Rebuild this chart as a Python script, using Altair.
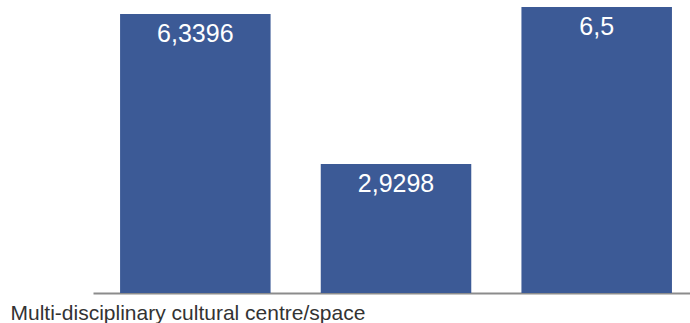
import altair as alt
import pandas as pd

category = "Multi-disciplinary cultural centre/space"
series = ["A", "B", "C"]
values = [6.3396, 2.9298, 6.5]

df = pd.DataFrame({
    "series": series,
    "value": values,
    "label": [str(v).replace(".", ",") for v in values],
})

x = alt.X(
    "series:N",
    sort=series,
    scale=alt.Scale(paddingInner=0.25, paddingOuter=0.1124, align=0.6),
    axis=alt.Axis(
        title=category,
        labels=False,
        ticks=False,
        domainColor="#8c8c8c",
        domainWidth=2,
        titleX=-83,
        titleY=20,
        titleAlign="left",
        titleAnchor="start",
        titleBaseline="middle",
        titleFont="Liberation Sans",
        titleFontSize=21,
        titleFontWeight="normal",
        titleColor="#333333",
    ),
)
y = alt.Y("value:Q", scale=alt.Scale(domain=[0, 6.66], nice=False), axis=None)

bars = alt.Chart(df).mark_bar(color="#3C5A96").encode(x=x, y=y)
text = alt.Chart(df).mark_text(
    color="white", font="Liberation Sans", fontSize=25, baseline="alphabetic", dy=28
).encode(x=x, y=y, text="label:N")

chart = (
    alt.layer(bars, text)
    .properties(
        width=597,
        height=293,
        autosize=alt.AutoSizeParams(type="none"),
        padding={"left": 93, "top": 0, "right": 0, "bottom": 30},
    )
    .configure_view(stroke=None)
)

chart.save("out.html", embed_options={"renderer": "svg", "actions": False})
